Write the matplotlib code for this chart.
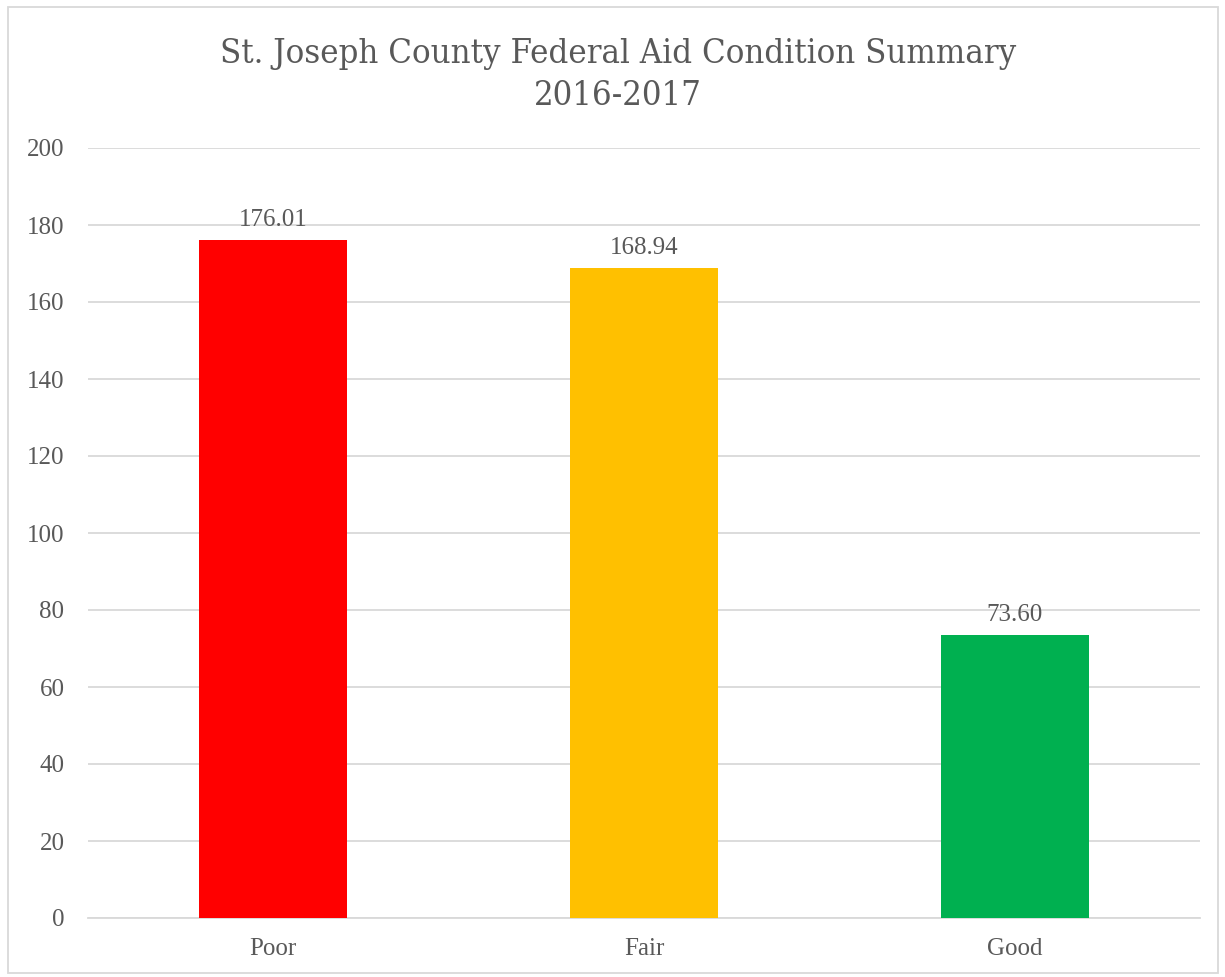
import matplotlib
matplotlib.use("Agg")
import matplotlib.pyplot as plt
from matplotlib.patches import Rectangle

categories = ["Poor", "Fair", "Good"]
values = [176.01, 168.94, 73.60]
colors = ["#FF0000", "#FFC000", "#00B050"]
yticks = [0, 20, 40, 60, 80, 100, 120, 140, 160, 180, 200]

TXT = "#595959"
GRID = "#D9D9D9"
FONT = "Liberation Serif"

fig = plt.figure(figsize=(12.25, 9.77), dpi=100)
W, H = 1225, 977
ax = fig.add_axes([88 / W, (H - 918) / H, (1200 - 88) / W, (918 - 148) / H])

x = list(range(len(categories)))
bars = ax.bar(x, values, width=0.4, color=colors, zorder=3)
for xi, v in zip(x, values):
    ax.annotate(f"{v:.2f}", (xi, v), xytext=(0, 6.5), textcoords="offset points",
                ha="center", va="bottom", fontsize=18, color=TXT, family=FONT)

ax.set_xlim(-0.5, 2.5)
ax.set_ylim(0, 200)
ax.set_yticks(yticks)
ax.set_yticklabels([str(t) for t in yticks], fontsize=18, color=TXT, family=FONT)
ax.set_xticks(x)
ax.set_xticklabels(categories, fontsize=18, color=TXT, family=FONT)
ax.tick_params(axis="y", length=0, pad=17)
ax.tick_params(axis="x", length=0, pad=14.5)
ax.yaxis.grid(True, color=GRID, linewidth=1.3, zorder=0)
for s in ["top", "right", "left"]:
    ax.spines[s].set_visible(False)
ax.spines["bottom"].set_color(GRID)
ax.spines["bottom"].set_linewidth(1.3)

fig.text(618 / W, 1 - 63 / H, "St. Joseph County Federal Aid Condition Summary",
         ha="center", va="baseline", fontsize=24.8, color=TXT,
         family="DejaVu Serif", fontstretch="condensed")
fig.text(618 / W, 1 - 105 / H, "2016-2017",
         ha="center", va="baseline", fontsize=24.8, color=TXT,
         family="DejaVu Serif", fontstretch="condensed")

fig.patches.append(Rectangle((8 / W, 4 / H), (1218 - 8) / W, (970 - 4) / H,
                             transform=fig.transFigure, fill=False,
                             edgecolor=GRID, linewidth=1.3))

fig.savefig("out.png", dpi=100)
